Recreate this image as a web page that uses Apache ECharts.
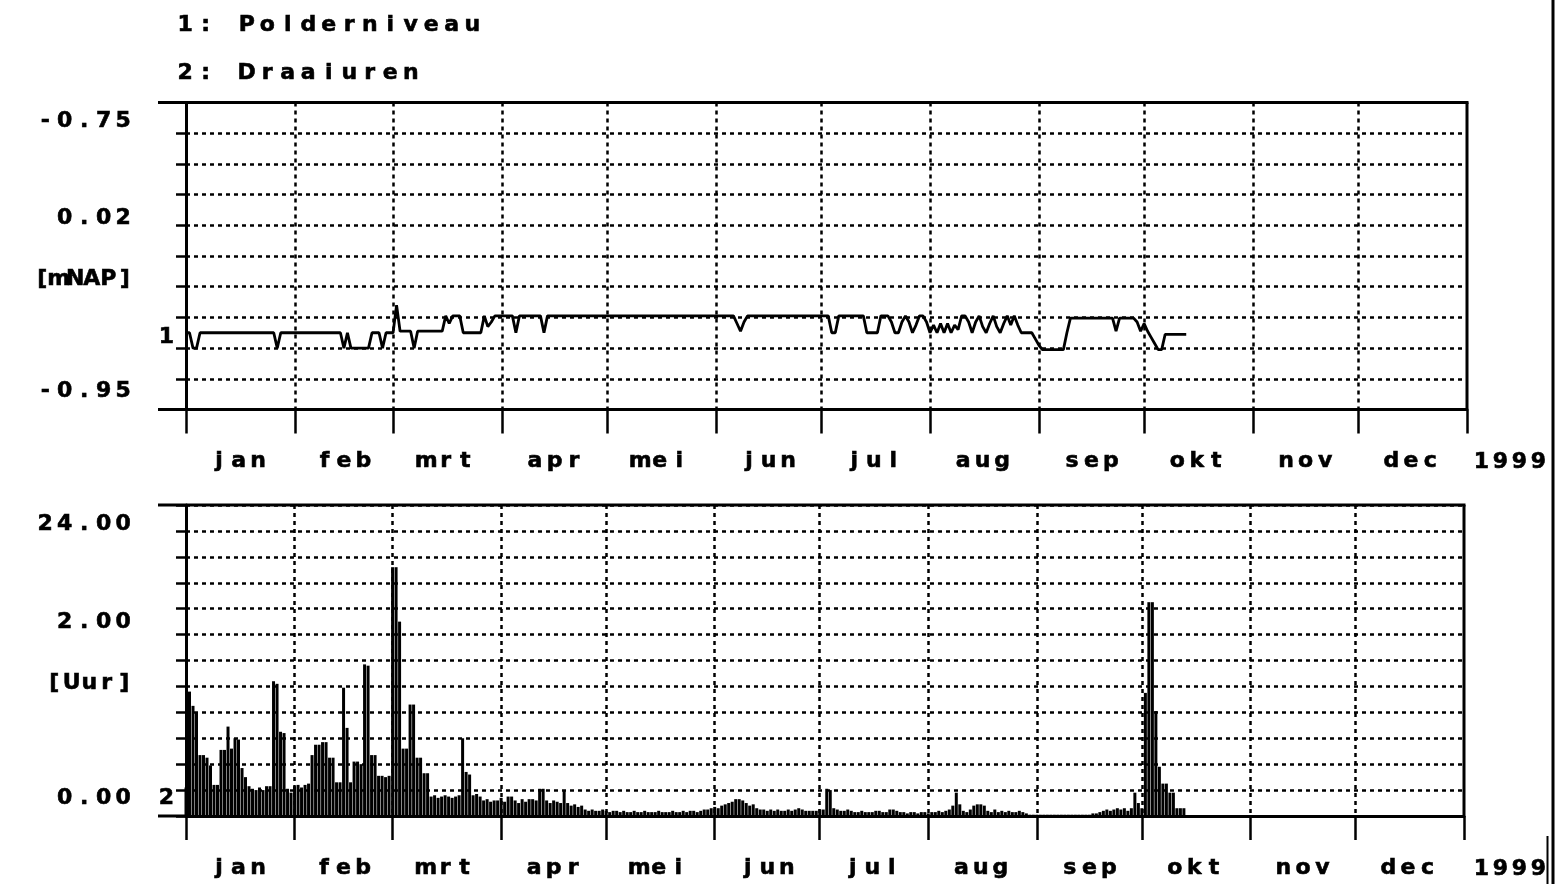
<!DOCTYPE html>
<html>
<head>
<meta charset="utf-8">
<script src="https://cdn.jsdelivr.net/npm/echarts@6/dist/echarts.min.js"></script>
<style>html,body{margin:0;padding:0;background:#fff}#c{width:1556px;height:884px}</style>
</head>
<body>
<div id="c"></div>
<script>
// ---------------- DATA ----------------
const monthNames = ['jan','feb','mrt','apr','mei','jun','jul','aug','sep','okt','nov','dec'];
const monthStarts = [0,31,59,90,120,151,181,212,243,273,304,334,365];
const yearLabel = '1999';
const legendTexts = ['1: Polderniveau', '2: Draaiuren'];
const seriesTags = ['1', '2'];
// tick value -> printed text (top panel: max, step, unit, min)
const topTickLabels = {'-0.75':'-0.75', '-0.83':'0.02', '-0.87':'[mNAP]', '-0.95':'-0.95'};
const bottomTickLabels = {'24':'24.00', '16':'2.00', '10':'[Uur]', '0':'0.00'};

// Polderniveau [mNAP], daily from 1 Jan 1999
const polderniveau = [
-0.900,-0.900,-0.910,-0.910,-0.900,-0.900,-0.900,-0.900,-0.900,-0.900,
-0.900,-0.900,-0.900,-0.900,-0.900,-0.900,-0.900,-0.900,-0.900,-0.900,
-0.900,-0.900,-0.900,-0.900,-0.900,-0.900,-0.910,-0.900,-0.900,-0.900,
-0.900,-0.900,-0.900,-0.900,-0.900,-0.900,-0.900,-0.900,-0.900,-0.900,
-0.900,-0.900,-0.900,-0.900,-0.900,-0.910,-0.900,-0.910,-0.910,-0.910,
-0.910,-0.910,-0.910,-0.900,-0.900,-0.900,-0.910,-0.900,-0.900,-0.900,
-0.882,-0.899,-0.899,-0.899,-0.899,-0.910,-0.899,-0.899,-0.899,-0.899,
-0.899,-0.899,-0.899,-0.899,-0.889,-0.894,-0.889,-0.889,-0.889,-0.900,
-0.900,-0.900,-0.900,-0.900,-0.900,-0.889,-0.896,-0.893,-0.889,-0.889,
-0.889,-0.889,-0.889,-0.889,-0.900,-0.889,-0.889,-0.889,-0.889,-0.889,
-0.889,-0.889,-0.900,-0.889,-0.889,-0.889,-0.889,-0.889,-0.889,-0.889,
-0.889,-0.889,-0.889,-0.889,-0.889,-0.889,-0.889,-0.889,-0.889,-0.889,
-0.889,-0.889,-0.889,-0.889,-0.889,-0.889,-0.889,-0.889,-0.889,-0.889,
-0.889,-0.889,-0.889,-0.889,-0.889,-0.889,-0.889,-0.889,-0.889,-0.889,
-0.889,-0.889,-0.889,-0.889,-0.889,-0.889,-0.889,-0.889,-0.889,-0.889,
-0.889,-0.889,-0.889,-0.889,-0.889,-0.889,-0.889,-0.894,-0.899,-0.893,
-0.889,-0.889,-0.889,-0.889,-0.889,-0.889,-0.889,-0.889,-0.889,-0.889,
-0.889,-0.889,-0.889,-0.889,-0.889,-0.889,-0.889,-0.889,-0.889,-0.889,
-0.889,-0.889,-0.889,-0.889,-0.900,-0.900,-0.889,-0.889,-0.889,-0.889,
-0.889,-0.889,-0.889,-0.889,-0.900,-0.900,-0.900,-0.900,-0.889,-0.889,
-0.889,-0.893,-0.900,-0.900,-0.893,-0.889,-0.893,-0.900,-0.895,-0.889,
-0.889,-0.893,-0.900,-0.895,-0.900,-0.894,-0.900,-0.894,-0.900,-0.895,
-0.898,-0.889,-0.889,-0.893,-0.900,-0.893,-0.889,-0.896,-0.900,-0.894,
-0.889,-0.896,-0.900,-0.894,-0.889,-0.895,-0.889,-0.895,-0.900,-0.900,
-0.900,-0.900,-0.904,-0.908,-0.911,-0.911,-0.911,-0.911,-0.911,-0.911,
-0.911,-0.900,-0.8905,-0.8905,-0.8905,-0.8905,-0.8905,-0.8905,-0.8905,-0.8905,
-0.8905,-0.8905,-0.8905,-0.8905,-0.8905,-0.899,-0.8905,-0.8905,-0.8905,-0.8905,
-0.8905,-0.893,-0.899,-0.894,-0.899,-0.903,-0.907,-0.911,-0.911,-0.901,
-0.901,-0.901,-0.901,-0.901,-0.901,-0.901
];

// Draaiuren [Uur], daily from 1 Jan 1999
const draaiuren = [
2.2, 9.6, 8.5, 8.0, 4.7, 4.7, 4.5, 3.9, 2.4, 2.4,
5.1, 5.1, 6.9, 5.2, 6.0, 5.9, 3.7, 3.0, 2.3, 2.1,
2.0, 2.2, 2.0, 2.3, 2.3, 10.4, 10.2, 6.5, 6.4, 2.1,
1.8, 2.3, 2.4, 2.2, 2.4, 2.5, 4.7, 5.5, 5.5, 5.7,
5.7, 4.5, 4.5, 2.6, 2.6, 9.9, 6.8, 2.6, 4.2, 4.2,
4.0, 11.7, 11.6, 4.7, 4.7, 3.1, 3.1, 3.0, 3.1, 19.2,
19.2, 15.0, 5.2, 5.2, 8.6, 8.6, 4.5, 4.5, 3.3, 3.3,
1.5, 1.6, 1.4, 1.5, 1.6, 1.5, 1.4, 1.5, 1.6, 6.0,
3.4, 3.2, 1.6, 1.7, 1.5, 1.2, 1.3, 1.1, 1.2, 1.2,
1.4, 1.1, 1.5, 1.5, 1.2, 1.0, 1.3, 1.1, 1.3, 1.3,
1.2, 2.1, 2.1, 1.2, 1.0, 1.2, 1.1, 1.0, 2.0, 1.0,
0.8, 0.9, 0.7, 0.8, 0.5, 0.4, 0.5, 0.4, 0.4, 0.5,
0.4, 0.3, 0.4, 0.4, 0.3, 0.4, 0.3, 0.3, 0.4, 0.3,
0.3, 0.4, 0.3, 0.3, 0.3, 0.4, 0.3, 0.3, 0.3, 0.4,
0.3, 0.3, 0.4, 0.3, 0.4, 0.4, 0.3, 0.4, 0.5, 0.5,
0.6, 0.7, 0.6, 0.8, 0.9, 1.0, 1.1, 1.3, 1.3, 1.2,
1.0, 0.8, 0.9, 0.6, 0.5, 0.5, 0.4, 0.5, 0.4, 0.5,
0.4, 0.4, 0.5, 0.4, 0.5, 0.6, 0.5, 0.4, 0.4, 0.4,
0.4, 0.5, 0.5, 2.1, 2.0, 0.6, 0.5, 0.4, 0.4, 0.5,
0.4, 0.3, 0.3, 0.4, 0.3, 0.3, 0.3, 0.4, 0.4, 0.3,
0.3, 0.5, 0.5, 0.4, 0.3, 0.3, 0.2, 0.3, 0.3, 0.2,
0.3, 0.3, 0.2, 0.3, 0.3, 0.4, 0.3, 0.4, 0.5, 0.8,
1.8, 0.9, 0.4, 0.3, 0.5, 0.8, 0.9, 0.9, 0.8, 0.4,
0.3, 0.5, 0.3, 0.4, 0.3, 0.4, 0.3, 0.3, 0.4, 0.3,
0.2, 0.1, 0.1, 0.1, 0.1, 0.1, 0.1, 0.1, 0.1, 0.1,
0.1, 0.1, 0.1, 0.1, 0.1, 0.1, 0.1, 0.1, 0.1, 0.2,
0.2, 0.3, 0.4, 0.5, 0.4, 0.5, 0.6, 0.5, 0.6, 0.4,
0.6, 1.8, 1.0, 0.6, 9.5, 16.5, 16.5, 8.1, 3.8, 2.5,
2.5, 1.8, 1.8, 0.6, 0.6, 0.6
];

// ---------------- STYLE / LAYOUT ----------------
const FONT = 'DejaVu Sans';
const FS = 22;
const STROKE_W = 0.6;
const G1 = {left: 186, top: 102.5, width: 1281, height: 307};
const G2 = {left: 186, top: 505, width: 1278, height: 311};
const FRAME_LEFT = 158;
const labelShift = {'-0.75': 18.5, '0.02': -7, '[mNAP]': -7, '-0.95': -18,
                    '24.00': 19.5, '2.00': 13.5, '[Uur]': -3, '0.00': -17.5};
const labelCharW = {'[mNAP]': 16.5, '[Uur]': 17.5};

const days = Array.from({length: monthStarts[12] + 1}, (_, i) => i);
const monthMid = {};
for (let i = 0; i < 12; i++) {
  monthMid[monthStarts[i] + Math.floor((monthStarts[i + 1] - monthStarts[i]) / 2)] = monthNames[i];
}

// axis-label rich style (ECharts naming)
function charStyle(w) {
  return {fontFamily: FONT, fontWeight: 'bold', fontSize: FS, color: '#000',
          textBorderColor: '#000', textBorderWidth: STROKE_W,
          width: w, align: 'center', lineHeight: 24};
}
// graphic-text rich style (zrender naming)
function charStyleG(w) {
  return {fontFamily: FONT, fontWeight: 'bold', fontSize: FS, fill: '#000',
          stroke: '#000', lineWidth: STROKE_W,
          width: w, align: 'center', lineHeight: 24};
}
function spaced(str, key) {
  return str.split('').map(ch => '{' + key + '|' + (ch === ' ' ? '\u00a0' : ch) + '}').join('');
}
function buildYLabel(table) {
  const rich = {}, keyOf = {};
  Object.values(table).forEach((txt, i) => {
    const s = labelShift[txt] || 0, k = 'k' + i;
    keyOf[txt] = k;
    rich[k] = Object.assign(charStyle(labelCharW[txt] || 19.5),
      {padding: s > 0 ? [2 * s, 0, 0, 0] : [0, 0, -2 * s, 0]});
  });
  return {
    show: true, margin: 53, rich: rich,
    formatter: v => { const t = table[String(+(+v).toFixed(2))]; return t ? spaced(t, keyOf[t]) : ''; }
  };
}

const dashed = {color: '#000', width: 2.5, type: [4, 4]};

function xAxisFor(i) {
  return {
    type: 'category', gridIndex: i, data: days, boundaryGap: false,
    axisLine: {show: true, onZero: false, lineStyle: {color: '#000', width: 3}},
    axisTick: {show: true, interval: idx => monthStarts.includes(idx), length: 24,
               lineStyle: {color: '#000', width: 2.5}},
    axisLabel: {show: true, interval: idx => monthMid[idx] !== undefined, margin: 40,
                formatter: (v, idx) => monthMid[idx] ? spaced(monthMid[idx], 'c') : '',
                rich: {c: charStyle(19.5)}},
    splitLine: {show: true, interval: idx => idx > 0 && idx < 365 && monthStarts.includes(idx),
                lineStyle: dashed}
  };
}
function yAxisFor(i, min, max, step, table) {
  return {
    type: 'value', gridIndex: i, min: min, max: max, interval: step,
    axisLine: {show: true, lineStyle: {color: '#000', width: 3}},
    axisTick: {show: true, length: 10, lineStyle: {color: '#000', width: 2.5}},
    axisLabel: buildYLabel(table),
    splitLine: {show: true, lineStyle: dashed}
  };
}

function frame(g) {
  const r = g.left + g.width, b = g.top + g.height;
  const st = {stroke: '#000', lineWidth: 3};
  return [
    {type: 'line', z: 50, shape: {x1: FRAME_LEFT, y1: g.top, x2: r + 1.5, y2: g.top}, style: st},
    {type: 'line', z: 50, shape: {x1: FRAME_LEFT, y1: b, x2: g.left, y2: b}, style: st},
    {type: 'line', z: 50, shape: {x1: r, y1: g.top, x2: r, y2: b}, style: st}
  ];
}
function textEl(str, cw, x, y, align) {
  return {type: 'text', z: 50, x: x, y: y,
          style: {text: spaced(str, 't'), rich: {t: charStyleG(cw)}, align: align, verticalAlign: 'middle'}};
}
const tagLabel = {show: true, position: 'left', distance: 12,
                  fontFamily: FONT, fontWeight: 'bold', fontSize: FS, color: '#000',
                  textBorderColor: '#000', textBorderWidth: STROKE_W};

const chart = echarts.init(document.getElementById('c'));
chart.setOption({
  animation: false,
  backgroundColor: '#fff',
  grid: [
    {left: G1.left, top: G1.top, width: G1.width, height: G1.height},
    {left: G2.left, top: G2.top, width: G2.width, height: G2.height}
  ],
  xAxis: [xAxisFor(0), xAxisFor(1)],
  yAxis: [yAxisFor(0, -0.95, -0.75, 0.02, topTickLabels), yAxisFor(1, 0, 24, 2, bottomTickLabels)],
  series: [
    {
      name: legendTexts[0], type: 'line', xAxisIndex: 0, yAxisIndex: 0,
      data: polderniveau, showSymbol: false, symbol: 'none',
      lineStyle: {color: '#000', width: 2.8}, z: 10,
      markPoint: {symbol: 'circle', symbolSize: 0, silent: true,
        data: [{coord: [0, polderniveau[0]], label: Object.assign({}, tagLabel, {formatter: seriesTags[0], offset: [0, 5]})}]}
    },
    {
      name: legendTexts[1], type: 'bar', xAxisIndex: 1, yAxisIndex: 1,
      data: draaiuren, barWidth: 3, itemStyle: {color: '#000'}, z: 10,
      markPoint: {symbol: 'circle', symbolSize: 0, silent: true,
        data: [{coord: [0, 0], label: Object.assign({}, tagLabel, {formatter: seriesTags[1], offset: [0, -18]})}]}
    }
  ],
  graphic: [].concat(
    frame(G1), frame(G2),
    [
      textEl(legendTexts[0], 20.5, 175, 25, 'left'),
      textEl(legendTexts[1], 20.5, 175, 73, 'left'),
      textEl(yearLabel, 19, G1.left + G1.width + 43, G1.top + G1.height + 53, 'center'),
      textEl(yearLabel, 19, G2.left + G2.width + 46, G2.top + G2.height + 53, 'center'),
      {type: 'line', z: 50, shape: {x1: 1553, y1: 0, x2: 1553, y2: 884}, style: {stroke: '#000', lineWidth: 3}},
      {type: 'line', z: 50, shape: {x1: 1547.5, y1: 836, x2: 1547.5, y2: 884}, style: {stroke: '#000', lineWidth: 2}}
    ]
  )
});
</script>
</body>
</html>
